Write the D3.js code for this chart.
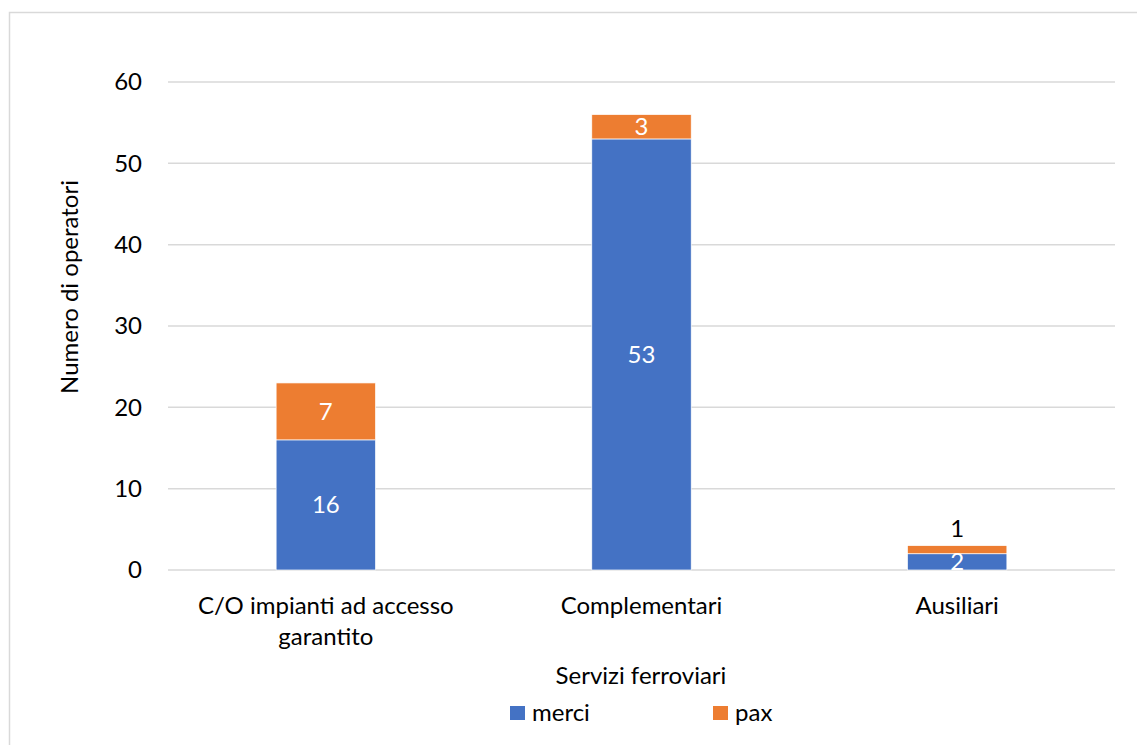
<!DOCTYPE html>
<html>
<head>
<meta charset="utf-8">
<script src="https://cdn.jsdelivr.net/npm/d3@7"></script>
<style>
  body { margin: 0; background: #fff; }
  text { font-family: Lato, "Noto Sans", sans-serif; }
</style>
</head>
<body>
<div id="container"></div>
<script>
const categories = ["C/O impianti ad accesso garantito", "Complementari", "Ausiliari"];
const merci = [16, 53, 2];
const pax = [7, 3, 1];
const seriesNames = ["merci", "pax"];
const yTicks = [0, 10, 20, 30, 40, 50, 60];

const w = 1137;
const h = 745;
const fs = 24;
const colors = { merci: "#4472C4", pax: "#ED7D31" };

const svg = d3.select("#container")
  .append("svg")
  .attr("width", w)
  .attr("height", h);

// chart frame
svg.append("rect")
  .attr("x", 9.5).attr("y", 12.5)
  .attr("width", w + 10).attr("height", h + 10)
  .attr("fill", "none")
  .attr("stroke", "#D9D9D9")
  .attr("stroke-width", 1.5);

const plotLeft = 168, plotRight = 1115, plotTop = 82, plotBottom = 570;

const xScale = d3.scaleBand()
  .domain(categories)
  .range([plotLeft, plotRight])
  .paddingInner(0.685)
  .paddingOuter(0.3425);

const yScale = d3.scaleLinear()
  .domain([0, 60])
  .range([plotBottom, plotTop]);

// gridlines
svg.append("g")
  .selectAll("line")
  .data(yTicks)
  .enter()
  .append("line")
  .attr("x1", plotLeft)
  .attr("x2", plotRight)
  .attr("y1", (d) => yScale(d))
  .attr("y2", (d) => yScale(d))
  .attr("stroke", "#D9D9D9")
  .attr("stroke-width", 1.5);

// y axis
const yAxis = d3.axisLeft(yScale).tickValues(yTicks).tickSize(0).tickPadding(26);
const yg = svg.append("g")
  .attr("transform", "translate(" + plotLeft + ",0)")
  .call(yAxis);
yg.select(".domain").remove();
yg.selectAll("text")
  .attr("font-size", fs)
  .attr("fill", "#000")
  .style("font-family", "Lato, 'Noto Sans', sans-serif");

// stacked data
const rows = categories.map((c, i) => ({ cat: c, merci: merci[i], pax: pax[i] }));
const stack = d3.stack().keys(seriesNames)(rows);

svg.append("g")
  .selectAll("g")
  .data(stack)
  .enter()
  .append("g")
  .attr("fill", (d) => colors[d.key])
  .selectAll("rect")
  .data((d) => d)
  .enter()
  .append("rect")
  .attr("x", (d) => xScale(d.data.cat))
  .attr("y", (d) => yScale(d[1]))
  .attr("width", xScale.bandwidth())
  .attr("height", (d) => yScale(d[0]) - yScale(d[1]))
  .attr("stroke", "#fff")
  .attr("stroke-width", 0.7);

// data labels
stack.forEach((s) => {
  s.forEach((d) => {
    const v = d[1] - d[0];
    const hh = yScale(d[0]) - yScale(d[1]);
    const cx = xScale(d.data.cat) + xScale.bandwidth() / 2;
    const outside = s.key === "pax" && hh < 12;
    svg.append("text")
      .attr("x", cx)
      .attr("y", outside ? yScale(d[1]) - 17 : (yScale(d[0]) + yScale(d[1])) / 2)
      .attr("dy", "0.35em")
      .attr("text-anchor", "middle")
      .attr("font-size", fs)
      .attr("fill", outside ? "#000" : "#fff")
      .text(v);
  });
});

// x labels
const xLabels = {
  "C/O impianti ad accesso garantito": ["C/O impianti ad accesso", "garantito"],
  "Complementari": ["Complementari"],
  "Ausiliari": ["Ausiliari"]
};
categories.forEach((c) => {
  const t = svg.append("text")
    .attr("x", xScale(c) + xScale.bandwidth() / 2)
    .attr("y", 614)
    .attr("text-anchor", "middle")
    .attr("font-size", fs)
    .attr("fill", "#000");
  xLabels[c].forEach((line, i) => {
    t.append("tspan")
      .attr("x", xScale(c) + xScale.bandwidth() / 2)
      .attr("dy", i === 0 ? 0 : 31)
      .text(line);
  });
});

// axis titles
svg.append("text")
  .attr("x", 641)
  .attr("y", 684)
  .attr("text-anchor", "middle")
  .attr("font-size", fs)
  .text("Servizi ferroviari");

svg.append("text")
  .attr("transform", "translate(78,287) rotate(-90)")
  .attr("text-anchor", "middle")
  .attr("font-size", fs)
  .text("Numero di operatori");

// legend
const legendX = [510, 713];
seriesNames.forEach((k, i) => {
  svg.append("rect")
    .attr("x", legendX[i])
    .attr("y", 706)
    .attr("width", 15)
    .attr("height", 14)
    .attr("fill", colors[k]);
  svg.append("text")
    .attr("x", legendX[i] + 22)
    .attr("y", 721)
    .attr("font-size", fs)
    .text(k);
});
</script>
</body>
</html>
